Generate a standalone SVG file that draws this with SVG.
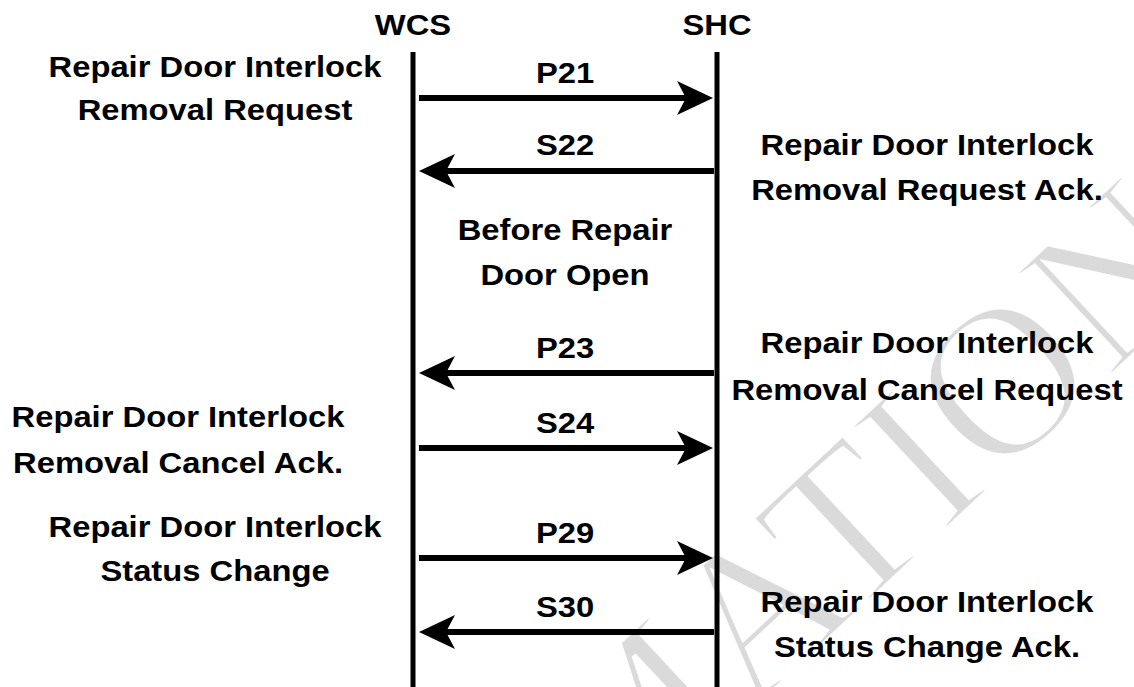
<svg xmlns="http://www.w3.org/2000/svg" width="1134" height="687" viewBox="0 0 1134 687">
<style>
.t{font-family:"Liberation Sans",Arial,Helvetica,sans-serif;font-weight:bold;font-size:29.5px;text-anchor:middle;fill:#000}
.life{stroke:#000;stroke-width:5;fill:none}
.msg{stroke:#000;stroke-width:6;fill:none;marker-end:url(#ah)}
.wm{font-family:"Liberation Serif","Times New Roman",serif;font-size:215px;fill:#dadada;stroke:#fff;stroke-width:5}
</style>
<defs>
<marker id="ah" markerUnits="userSpaceOnUse" viewBox="0 0 36 34" refX="16" refY="17" markerWidth="36" markerHeight="34" orient="auto">
<path d="M0,0 L36,17 L0,34 L9,17 Z" fill="#000"/>
</marker>
</defs>
<rect width="1134" height="687" fill="#fff"/>
<g id="watermark">
<text class="wm" transform="translate(137.5 1284) rotate(-43)">INFORMATION</text>
</g>
<g id="wcs">
<text class="t" transform="translate(413 35) scale(1.11 1)">WCS</text>
<line class="life" x1="413" y1="52" x2="413" y2="687"/>
</g>
<g id="shc">
<text class="t" transform="translate(717 35) scale(1.11 1)">SHC</text>
<line class="life" x1="717" y1="52" x2="717" y2="687"/>
</g>
<g id="connectors">
<line id="p21" class="msg" x1="419" y1="98" x2="693" y2="98"/>
<line id="s22" class="msg" x1="714" y1="171" x2="439" y2="171"/>
<line id="p23" class="msg" x1="714" y1="373" x2="439" y2="373"/>
<line id="s24" class="msg" x1="419" y1="448" x2="693" y2="448"/>
<line id="p29" class="msg" x1="419" y1="558" x2="693" y2="558"/>
<line id="s30" class="msg" x1="714" y1="632" x2="439" y2="632"/>
</g>
<g id="labels">
<text class="t" transform="translate(565 0) scale(1.11 1)"><tspan x="0" y="83">P21</tspan></text>
<text class="t" transform="translate(565 0) scale(1.11 1)"><tspan x="0" y="155">S22</tspan></text>
<text class="t" transform="translate(565 0) scale(1.11 1)"><tspan x="0" y="358">P23</tspan></text>
<text class="t" transform="translate(565 0) scale(1.11 1)"><tspan x="0" y="433">S24</tspan></text>
<text class="t" transform="translate(565 0) scale(1.11 1)"><tspan x="0" y="543">P29</tspan></text>
<text class="t" transform="translate(565 0) scale(1.11 1)"><tspan x="0" y="617">S30</tspan></text>
</g>
<g id="note-removal-request">
<text class="t" transform="translate(215 0) scale(1.11 1)"><tspan x="0" y="77">Repair Door Interlock</tspan><tspan x="0" y="120">Removal Request</tspan></text>
</g>
<g id="note-removal-request-ack">
<text class="t" transform="translate(927 0) scale(1.11 1)"><tspan x="0" y="155">Repair Door Interlock</tspan><tspan x="0" y="200">Removal Request Ack.</tspan></text>
</g>
<g id="note-before-open">
<text class="t" transform="translate(565 0) scale(1.11 1)"><tspan x="0" y="240">Before Repair</tspan><tspan x="0" y="285">Door Open</tspan></text>
</g>
<g id="note-cancel-request">
<text class="t" transform="translate(927 0) scale(1.11 1)"><tspan x="0" y="353">Repair Door Interlock</tspan><tspan x="0" y="400">Removal Cancel Request</tspan></text>
</g>
<g id="note-cancel-ack">
<text class="t" transform="translate(178 0) scale(1.11 1)"><tspan x="0" y="427">Repair Door Interlock</tspan><tspan x="0" y="473">Removal Cancel Ack.</tspan></text>
</g>
<g id="note-status-change">
<text class="t" transform="translate(215 0) scale(1.11 1)"><tspan x="0" y="537">Repair Door Interlock</tspan><tspan x="0" y="581">Status Change</tspan></text>
</g>
<g id="note-status-change-ack">
<text class="t" transform="translate(927 0) scale(1.11 1)"><tspan x="0" y="612">Repair Door Interlock</tspan><tspan x="0" y="657">Status Change Ack.</tspan></text>
</g>
</svg>
